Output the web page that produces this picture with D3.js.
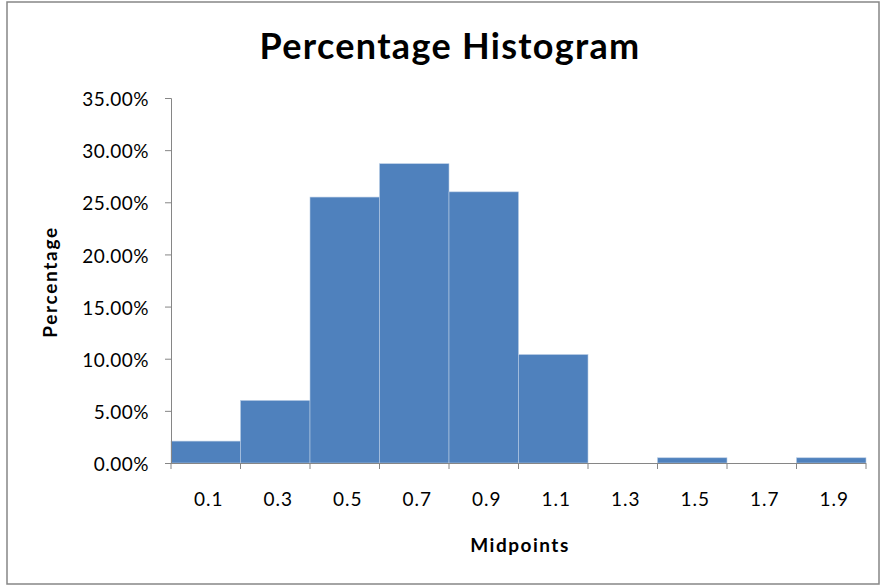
<!DOCTYPE html>
<html><head><meta charset="utf-8">
<script src="https://cdn.jsdelivr.net/npm/d3@7"></script>
<style>body{margin:0;background:#fff}svg{display:block}</style>
</head><body>
<svg id="c" width="882" height="586"></svg>
<script>
const midpoints = ["0.1","0.3","0.5","0.7","0.9","1.1","1.3","1.5","1.7","1.9"];
const percentages = [2.1, 6.0, 25.5, 28.7, 26.0, 10.4, 0, 0.5, 0, 0.5];
const yTicks = [0, 5, 10, 15, 20, 25, 30, 35];

(function(){
const svg = d3.select("#c");
const mLeft = 171, mRight = 866, mTop = 98, mBottom = 463;

svg.append("rect").attr("x", 7).attr("y", 2).attr("width", 872).attr("height", 582)
  .attr("fill", "#fff").attr("stroke", "#868686").attr("stroke-width", 1.5);

const x = d3.scaleBand().domain(midpoints).range([mLeft, mRight]).padding(0);
const y = d3.scaleLinear().domain([0, 35]).range([mBottom, mTop]);

svg.append("g").selectAll("rect").data(midpoints).join("rect")
  .attr("x", d => x(d))
  .attr("y", (d, i) => y(percentages[i]))
  .attr("width", x.bandwidth())
  .attr("height", (d, i) => y(0) - y(percentages[i]))
  .attr("fill", "#4F81BD")
  .attr("stroke", "#b8cce4").attr("stroke-width", 0.6);

const font = "Lato, 'Open Sans', 'Liberation Sans', sans-serif";

const ya = svg.append("g").attr("transform", `translate(${mLeft},0)`)
  .call(d3.axisLeft(y).tickValues(yTicks).tickSize(6).tickPadding(16)
    .tickFormat(d => d.toFixed(2) + "%"));
ya.select(".domain").attr("stroke", "#868686");
ya.selectAll(".tick line").attr("stroke", "#868686");
ya.selectAll("text").attr("font-family", font).attr("font-size", 19)
  .attr("letter-spacing", 0.5).attr("dy", "0.4em").attr("fill", "#000");

const xa = svg.append("g").attr("transform", `translate(0,${mBottom})`)
  .call(d3.axisBottom(x).tickSize(0).tickPadding(30));
xa.select(".domain").attr("stroke", "#868686").attr("d", `M${mLeft},0.5H${mRight}`);
xa.selectAll("text").attr("font-family", font).attr("font-size", 19)
  .attr("letter-spacing", 1).attr("dx", 3).attr("fill", "#000");
const edges = midpoints.map(d => x(d)).concat([x(midpoints[midpoints.length-1]) + x.bandwidth()]);
xa.append("g").selectAll("line").data(edges).join("line")
  .attr("x1", d => d).attr("x2", d => d).attr("y1", 0).attr("y2", 6)
  .attr("stroke", "#868686");

svg.append("text").attr("x", 450).attr("y", 59).attr("text-anchor", "middle")
  .attr("font-family", font).attr("font-weight", "bold").attr("font-size", 36)
  .attr("letter-spacing", 1.3)
  .text("Percentage Histogram");

svg.append("text").attr("x", 520).attr("y", 552).attr("text-anchor", "middle")
  .attr("font-family", font).attr("font-weight", "bold").attr("font-size", 19)
  .attr("letter-spacing", 1.5)
  .text("Midpoints");

svg.append("text").attr("transform", "translate(57,282) rotate(-90)").attr("text-anchor", "middle")
  .attr("font-family", font).attr("font-weight", "bold").attr("font-size", 19)
  .attr("letter-spacing", 1.7)
  .text("Percentage");
})();
</script>
</body></html>
